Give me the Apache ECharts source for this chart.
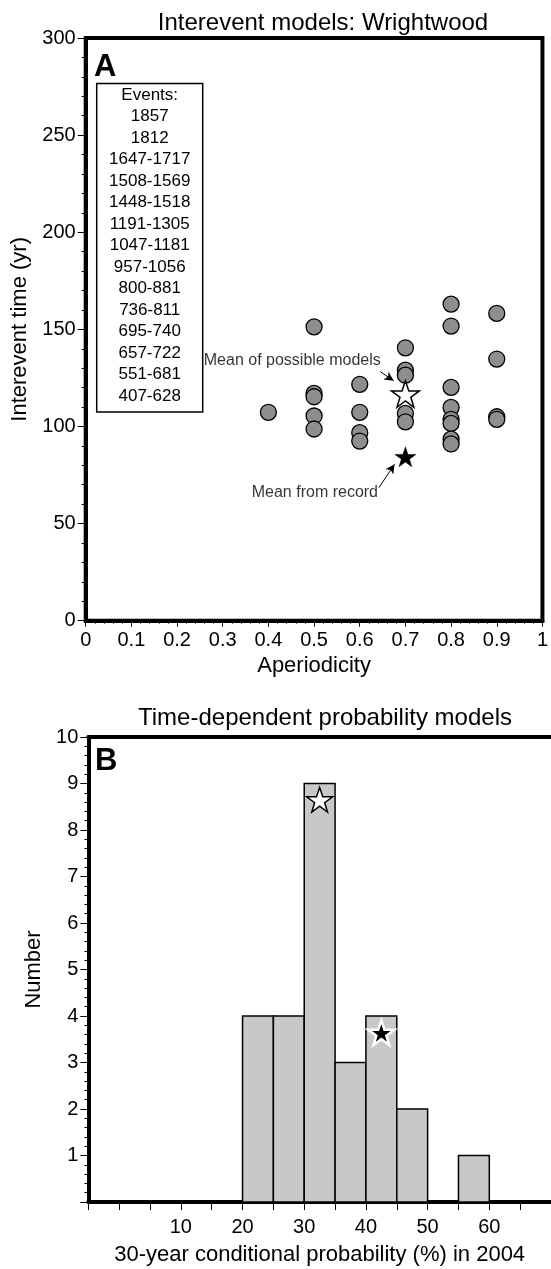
<!DOCTYPE html>
<html>
<head>
<meta charset="utf-8">
<script src="https://cdn.jsdelivr.net/npm/echarts@6/dist/echarts.min.js"></script>
<style>
html,body{margin:0;padding:0;background:#fff;}
#c{width:551px;height:1269px;}
</style>
</head>
<body>
<div id="c"></div>
<script>
// ---------- Panel A data ----------
var titleA = 'Interevent models: Wrightwood';
var aperiodicity = [0.4, 0.5, 0.5, 0.5, 0.5, 0.5, 0.6, 0.6, 0.6, 0.6,
  0.7, 0.7, 0.7, 0.7, 0.7, 0.8, 0.8, 0.8, 0.8, 0.8, 0.8, 0.8, 0.8,
  0.9, 0.9, 0.9, 0.9];
var intereventTime = [107.3, 151.3, 117.0, 115.3, 105.4, 98.7, 121.7, 107.3, 96.8, 92.5,
  140.5, 129.0, 126.4, 106.7, 102.4, 163.0, 151.7, 120.1, 109.8, 103.7, 101.6, 93.5, 91.0,
  158.2, 134.7, 105.0, 103.7];
var meanModels = [0.7, 116.7];
var meanRecord = [0.7, 84.4];
var eventsTitle = 'Events:';
var events = ['1857', '1812', '1647-1717', '1508-1569', '1448-1518', '1191-1305',
  '1047-1181', '957-1056', '800-881', '736-811', '695-740', '657-722', '551-681', '407-628'];
var labelModels = 'Mean of possible models';
var labelRecord = 'Mean from record';
var arrowModels = [[0.645, 128.2], [0.674, 123.6]];
var arrowRecord = [[0.642, 68.5], [0.676, 80.5]];
var textModelsAt = [0.646, 133.9];
var textRecordAt = [0.640, 65.9];

// ---------- Panel B data ----------
var titleB = 'Time-dependent probability models';
var binStart = [20, 25, 30, 35, 40, 45, 50, 55];
var binCounts = [4, 4, 9, 3, 4, 2, 0, 1];
var binWidth = 5;
var starModelsB = [32.5, 8.65];
var starRecordB = [42.5, 3.64];

var STAR = 'path://M50,0 L61.8,35.1 L98.6,35.1 L68.8,56.9 L79.4,91.9 L50,70 L20.6,91.9 L31.2,56.9 L1.4,35.1 L38.2,35.1 Z';
var FONT = 'Liberation Sans';

var chart = echarts.init(document.getElementById('c'), null, {renderer: 'canvas'});

var gridA = {left: 85.7, top: 38, width: 463.3, height: 582.7};
var gridB = {left: 88.3, top: 737, width: 462.7, height: 465};

var boxLeft = 96.7, boxTop = 83.5, boxW = 106, lineH = 21.5;
var boxLines = [eventsTitle].concat(events);

var axisLineStyle = {onZero: false, show: true, lineStyle: {color: '#000', width: 4}};

var option = {
  animation: false,
  textStyle: {fontFamily: FONT, color: '#000'},
  title: [
    {text: titleA, left: 318, top: 6, textAlign: 'center',
      textStyle: {fontFamily: FONT, fontSize: 24, fontWeight: 'normal', color: '#000'}},
    {text: titleB, left: 320, top: 701, textAlign: 'center',
      textStyle: {fontFamily: FONT, fontSize: 24, fontWeight: 'normal', color: '#000'}}
  ],
  grid: [
    Object.assign({show: true, borderColor: '#000', borderWidth: 4, backgroundColor: 'transparent'}, gridA),
    Object.assign({show: false}, gridB)
  ],
  xAxis: [
    {type: 'value', gridIndex: 0, min: 0, max: 1, interval: 0.1,
      name: 'Aperiodicity', nameLocation: 'middle', nameGap: 34,
      nameTextStyle: {fontFamily: FONT, fontSize: 22, color: '#000'},
      axisLine: axisLineStyle,
      axisTick: {show: true, inside: false, length: 6, lineStyle: {color: '#000', width: 1}},
      minorTick: {show: true, splitNumber: 5, length: 3, lineStyle: {color: '#000', width: 1}},
      splitLine: {show: false},
      axisLabel: {fontFamily: FONT, fontSize: 20, color: '#000', margin: 10,
        formatter: function (v) { return String(Math.round(v * 10) / 10); }}
    },
    {type: 'value', gridIndex: 1, min: -5, max: 70, interval: 5,
      name: '30-year conditional probability (%) in 2004', nameLocation: 'middle', nameGap: 42,
      nameTextStyle: {fontFamily: FONT, fontSize: 22, color: '#000'},
      axisLine: axisLineStyle,
      axisTick: {show: true, inside: false, length: 8, lineStyle: {color: '#000', width: 1}},
      splitLine: {show: false},
      axisLabel: {fontFamily: FONT, fontSize: 20, color: '#000', margin: 15,
        showMaxLabel: false,
        formatter: function (v) { return (v >= 10 && v <= 60 && v % 10 === 0) ? String(v) : ''; }}
    },
    {type: 'value', gridIndex: 1, min: -5, max: 70, position: 'top',
      axisLine: axisLineStyle,
      axisTick: {show: false}, axisLabel: {show: false}, splitLine: {show: false}}
  ],
  yAxis: [
    {type: 'value', gridIndex: 0, min: 0, max: 300, interval: 50,
      name: 'Interevent time (yr)', nameLocation: 'middle', nameGap: 53,
      nameTextStyle: {fontFamily: FONT, fontSize: 22, color: '#000'},
      axisLine: axisLineStyle,
      axisTick: {show: true, inside: false, length: 8, lineStyle: {color: '#000', width: 1}},
      minorTick: {show: true, splitNumber: 5, length: 4, lineStyle: {color: '#000', width: 1}},
      splitLine: {show: false},
      axisLabel: {fontFamily: FONT, fontSize: 20, color: '#000', margin: 10}
    },
    {type: 'value', gridIndex: 1, min: 0, max: 10, interval: 1,
      name: 'Number', nameLocation: 'middle', nameGap: 43,
      nameTextStyle: {fontFamily: FONT, fontSize: 22, color: '#000'},
      axisLine: axisLineStyle,
      axisTick: {show: true, inside: false, length: 8, lineStyle: {color: '#000', width: 1}},
      minorTick: {show: true, splitNumber: 5, length: 4, lineStyle: {color: '#000', width: 1}},
      splitLine: {show: false},
      axisLabel: {fontFamily: FONT, fontSize: 20, color: '#000', margin: 10,
        formatter: function (v) { return v === 0 ? '' : String(v); }}
    }
  ],
  series: [
    {type: 'scatter', xAxisIndex: 0, yAxisIndex: 0, symbol: 'circle', symbolSize: 16,
      itemStyle: {color: '#8e8e8e', borderColor: '#000', borderWidth: 1.3, opacity: 1},
      data: aperiodicity.map(function (x, i) { return [x, intereventTime[i]]; }), z: 3},
    {type: 'scatter', xAxisIndex: 0, yAxisIndex: 0, symbol: STAR, symbolSize: 28, symbolKeepAspect: true,
      itemStyle: {color: '#fff', borderColor: '#000', borderWidth: 1.5, opacity: 1},
      data: [meanModels], z: 4},
    {type: 'scatter', xAxisIndex: 0, yAxisIndex: 0, symbol: STAR, symbolSize: 21, symbolKeepAspect: true,
      itemStyle: {color: '#000', borderColor: '#000', borderWidth: 0.5, opacity: 1},
      data: [meanRecord], z: 4},
    {type: 'scatter', xAxisIndex: 0, yAxisIndex: 0, symbolSize: 0, silent: true,
      label: {show: true, position: 'left', distance: 0, fontFamily: FONT, fontSize: 16, color: '#000',
        formatter: function (p) { return p.data.name; }},
      data: [{value: textModelsAt, name: labelModels}, {value: textRecordAt, name: labelRecord}], z: 5,
      markLine: {
        silent: true, symbol: ['none', 'arrow'], symbolSize: [7, 9],
        lineStyle: {color: '#000', width: 1, type: 'solid'},
        label: {show: false},
        data: [
          [{coord: arrowModels[0]}, {coord: arrowModels[1]}],
          [{coord: arrowRecord[0], lineStyle: {curveness: -0.25}}, {coord: arrowRecord[1]}]
        ]
      }},
    {type: 'custom', xAxisIndex: 1, yAxisIndex: 1,
      data: binStart.map(function (s, i) { return [s, s + binWidth, binCounts[i]]; }),
      encode: {x: [0, 1], y: 2},
      renderItem: function (params, api) {
        var c = api.value(2);
        if (!c) return null;
        var p0 = api.coord([api.value(0), c]);
        var p1 = api.coord([api.value(1), 0]);
        return {type: 'rect', shape: {x: p0[0], y: p0[1], width: p1[0] - p0[0], height: p1[1] - p0[1]},
          style: {fill: '#c8c8c8', stroke: '#000', lineWidth: 1.5}};
      }, z: 2},
    {type: 'scatter', xAxisIndex: 1, yAxisIndex: 1, symbol: STAR, symbolSize: 26, symbolKeepAspect: true,
      itemStyle: {color: '#fff', borderColor: '#000', borderWidth: 1.5, opacity: 1},
      data: [starModelsB], z: 4},
    {type: 'scatter', xAxisIndex: 1, yAxisIndex: 1, symbol: STAR, symbolSize: 26, symbolKeepAspect: true,
      itemStyle: {color: '#000', borderColor: '#fff', borderWidth: 2.5, opacity: 1},
      data: [starRecordB], z: 4}
  ],
  graphic: [
    {type: 'text', left: 94, top: 52, style: {text: 'A', font: 'bold 31px "Liberation Sans"', fill: '#000'}},
    {type: 'text', left: 95, top: 746, style: {text: 'B', font: 'bold 31px "Liberation Sans"', fill: '#000'}},
    {type: 'rect', shape: {x: boxLeft, y: boxTop, width: boxW, height: lineH * boxLines.length + 6},
      style: {fill: '#fff', stroke: '#000', lineWidth: 1.5}, z: 10},
    {type: 'text', z: 11, x: boxLeft + boxW / 2, y: boxTop + 1,
      style: {text: boxLines.join('\n'), font: '17px "Liberation Sans"', lineHeight: lineH,
        align: 'center', verticalAlign: 'top', fill: '#000'}}
  ]
};
chart.setOption(option);
</script>
</body>
</html>
